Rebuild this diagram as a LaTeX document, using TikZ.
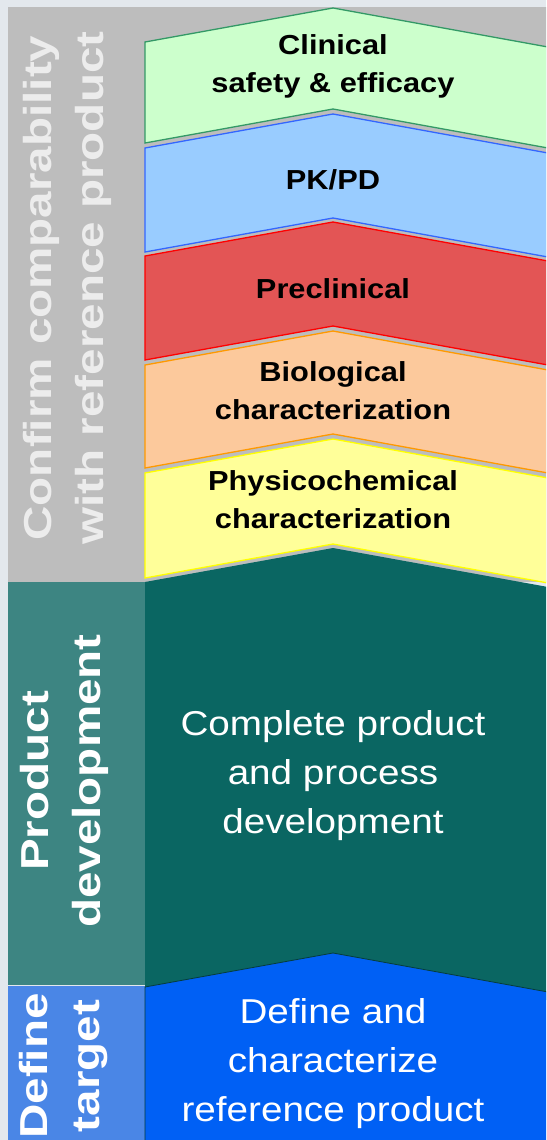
\documentclass[tikz,border=0pt]{standalone}
\usepackage{fontspec}
\setmainfont{Liberation Sans}
\usetikzlibrary{positioning}

\definecolor{pagebg}{HTML}{E3E8ED}
\definecolor{sidegray}{HTML}{BDBDBD}
\definecolor{sidetxt}{HTML}{ECECEC}
\definecolor{clinfill}{HTML}{CCFFCC}
\definecolor{clinline}{HTML}{339966}
\definecolor{pkfill}{HTML}{99CCFF}
\definecolor{pkline}{HTML}{3366FF}
\definecolor{prefill}{HTML}{E35555}
\definecolor{preline}{HTML}{FF0000}
\definecolor{biofill}{HTML}{FCC99C}
\definecolor{bioline}{HTML}{FF9900}
\definecolor{phyfill}{HTML}{FFFF99}
\definecolor{phyline}{HTML}{FFFF00}
\definecolor{devfill}{HTML}{0A6662}
\definecolor{devside}{HTML}{3D8582}
\definecolor{tgtfill}{HTML}{0060F5}
\definecolor{tgtside}{HTML}{4A86E6}

% one chevron band: top-left y, bottom-left y, fill, line
\newcommand{\chevband}[4]{%
  \filldraw[fill=#3, draw=#4, line width=1.3pt]
    (145,#1) -- (333,{#1-34}) -- (570,{#1+9}) -- (570,{#2+9})
    -- (333,{#2-34}) -- (145,#2) -- cycle;}

\begin{document}
\begin{tikzpicture}[x=1pt,y=-1pt,
  boxlabel/.style={align=center, xscale=1.12, font=\bfseries\fontsize{27.5}{38}\selectfont},
  biglabel/.style={align=center, xscale=1.12, text=white, font=\fontsize{34.5}{49}\selectfont},
  sidelabel/.style={align=center, rotate=90, xscale=1.22, font=\bfseries\fontsize{39}{52}\selectfont}]
\useasboundingbox (0,0) rectangle (546,1140);
\clip (0,0) rectangle (546,1140);
\fill[pagebg] (0,0) rectangle (546,1140);
% side columns
\fill[sidegray] (8,7) rectangle (560,582);
\fill[devside] (8,582) rectangle (145,985);
\fill[tgtside] (8,986) rectangle (145,1140);
% bands
\chevband{42}{143}{clinfill}{clinline}
\chevband{148}{252}{pkfill}{pkline}
\chevband{256}{360}{prefill}{preline}
\chevband{365}{468}{biofill}{bioline}
\chevband{473}{578}{phyfill}{phyline}
\fill[devfill] (145,582) -- (333,548) -- (570,591) -- (570,1000)
  -- (145,1000) -- cycle;
\filldraw[fill=tgtfill, draw=devfill!60!black, line width=0.8pt]
  (145,987) -- (333,953) -- (570,996) -- (570,1145)
  -- (145,1145) -- cycle;
% texts
\node[boxlabel] (clin) at (333,66) {Clinical\\safety \& efficacy};
\node[boxlabel] (pkpd) at (333,180) {PK/PD};
\node[boxlabel] (precl) at (333,289) {Preclinical};
\node[boxlabel] (bio) at (333,391) {Biological\\characterization};
\node[boxlabel] (phys) at (333,500) {Physicochemical\\characterization};
\node[biglabel] (dev) at (333,776) {Complete product\\and process\\development};
\node[biglabel] (tgt) at (333,1064) {Define and\\characterize\\reference product};
\node[sidelabel, text=sidetxt] (conf) at (67,288) {Confirm comparability\\with reference product};
\node[sidelabel, text=white] (pdev) at (64,781) {Product\\development};
\node[sidelabel, text=white] (dtgt) at (64,1066) {Define\\target};
\end{tikzpicture}
\end{document}
